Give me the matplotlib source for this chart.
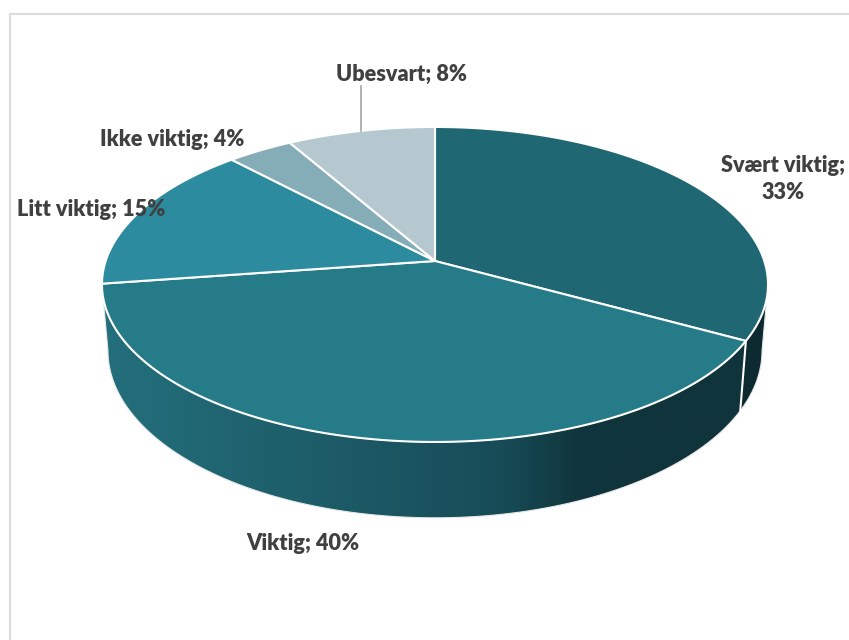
import matplotlib
matplotlib.use("Agg")
import matplotlib.pyplot as plt
import numpy as np
from matplotlib.colors import LinearSegmentedColormap
from matplotlib.patches import PathPatch, Polygon
from matplotlib.path import Path

categories = ["Svært viktig", "Viktig", "Litt viktig", "Ikke viktig", "Ubesvart"]
values = [33, 39.7, 15.3, 3.7, 8.3]
colors = ["#1f6773", "#267b89", "#2d8b9f", "#85adb7", "#b5c8cf"]

# where the labels sit, in pixels of the 849x640 picture
label_pos = [(783, 179), (302.5, 544), (91.5, 210), (172.5, 139), (402, 74)]
label_text = ["Svært viktig;\n33%", None, None, None, None]

# perspective of the pie: centre, radii and tilt
cx, cy = 435, 261
rx, ry = 329.3, 154
tilt = 0.149
# bottom rim of the cylinder
rim_y, rim_scale_x, rim_scale_y = 326, 0.982, 1.06


def top_edge(theta):
    # theta in degrees, clockwise from 12 o'clock
    t = np.radians(theta)
    px, py = np.sin(t), np.cos(t)
    w = 1 + tilt * py
    return cx + rx * px / w, cy - ry * py / w


def bottom_edge(theta):
    x, y = top_edge(theta)
    return cx + (x - cx) * rim_scale_x, rim_y + (y - cy) * rim_scale_y


def side_points(a, b):
    th = np.linspace(a, b, 120)
    x1, y1 = top_edge(th)
    x2, y2 = bottom_edge(th[::-1])
    return np.column_stack([np.r_[x1, x2], np.r_[y1, y2]])


fig = plt.figure(figsize=(8.49, 6.40), dpi=100)
ax = fig.add_axes([0, 0, 1, 1])
ax.set_xlim(0, 849)
ax.set_ylim(640, 0)
ax.axis("off")

# chart frame, only top and left are in the picture
ax.plot([849, 10.5, 10.5], [13.5, 13.5, 640], color="#dcdcdc", lw=1.6, solid_joinstyle="miter")

shares = np.cumsum([0] + values) / sum(values) * 360

# widest points of the pie, the side is visible between them
turn = np.degrees(np.arcsin(tilt))
right_end, left_end = 90 + turn, 270 - turn

side_cmap = LinearSegmentedColormap.from_list(
    "side", [(0, "#246f7c"), (0.25, "#1e616d"), (0.6, "#174c57"), (0.72, "#10343b"), (1, "#10343b")]
)
grad = np.linspace(0, 1, 256).reshape(1, -1)
im = ax.imshow(grad, extent=(102, 770, 530, 270), cmap=side_cmap, aspect="auto", zorder=1)
verts = side_points(shares[1], left_end)
im.set_clip_path(PathPatch(Path(verts), transform=ax.transData))

ax.add_patch(Polygon(side_points(right_end, shares[1]), fc="#0c2a30", ec="none", zorder=1))

# thin light outline round the side and the white seam
ax.add_patch(Polygon(side_points(right_end, left_end), fill=False, ec="#e4e8e8", lw=0.8, zorder=2))
sx = [top_edge(shares[1])[0], bottom_edge(shares[1])[0]]
sy = [top_edge(shares[1])[1], bottom_edge(shares[1])[1]]
ax.plot(sx, sy, color="white", lw=1.5, zorder=3)

# top of the pie
for i in range(len(values)):
    th = np.linspace(shares[i], shares[i + 1], 150)
    x, y = top_edge(th)
    pts = np.column_stack([np.r_[cx, x], np.r_[cy, y]])
    ax.add_patch(Polygon(pts, fc=colors[i], ec="white", lw=1.5, joinstyle="round", zorder=4))

# leader line for Ubesvart
mid = (shares[4] + shares[5]) / 2
lx, ly = top_edge(mid)
ax.plot([lx, lx], [86, ly], color="#a6a6a6", lw=1.2, zorder=5)

for i in range(len(categories)):
    txt = label_text[i] or f"{categories[i]}; {values[i]:.0f}%"
    ax.text(label_pos[i][0], label_pos[i][1], txt, ha="center", va="center", family="Lato",
            weight="heavy", fontsize=15.6, color="#404040", linespacing=1.4, zorder=6)

fig.savefig("out.png", dpi=100)
